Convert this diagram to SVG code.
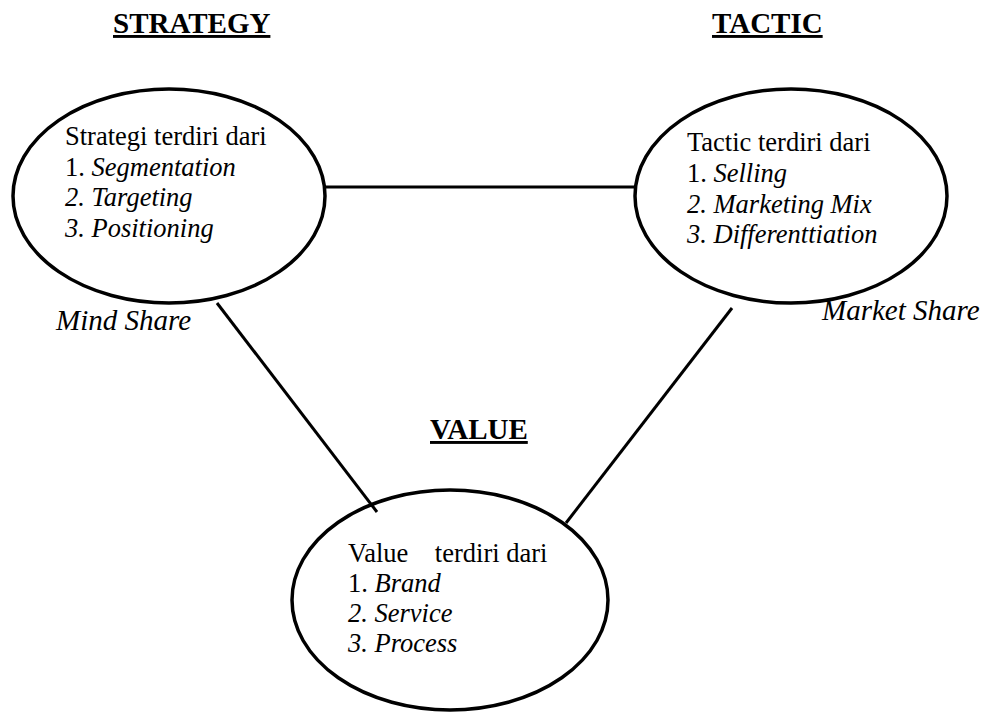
<svg xmlns="http://www.w3.org/2000/svg" width="986" height="713" viewBox="0 0 986 713">
<style>
text{font-family:"Liberation Serif","Times New Roman",serif;fill:#000}
.h{font-size:29px;font-weight:bold;text-decoration:underline}
.t{font-size:26.5px}
.i{font-style:italic}
.lbl{font-size:29px;font-style:italic}
.e{fill:none;stroke:#000;stroke-width:3.5}
.c{stroke:#000;stroke-width:3}
</style>
<rect width="986" height="713" fill="#fff"/>
<g id="connectors">
<line class="c" x1="326" y1="187" x2="635" y2="187"/>
<line class="c" x1="217" y1="303" x2="377" y2="512"/>
<line class="c" x1="732" y1="308" x2="566" y2="523"/>
</g>
<g id="strategy">
<text class="h" x="113" y="33">STRATEGY</text>
<ellipse class="e" cx="169" cy="196" rx="156" ry="107"/>
<text class="t" x="65" y="145">Strategi terdiri dari</text>
<text class="t" x="65" y="176">1. <tspan class="i">Segmentation</tspan></text>
<text class="t i" x="65" y="206">2. Targeting</text>
<text class="t i" x="65" y="237">3. Positioning</text>
<text class="lbl" x="56" y="330">Mind Share</text>
</g>
<g id="tactic">
<text class="h" x="712" y="33">TACTIC</text>
<ellipse class="e" cx="791" cy="196" rx="156" ry="107"/>
<text class="t" x="687" y="151">Tactic terdiri dari</text>
<text class="t" x="687" y="182">1. <tspan class="i">Selling</tspan></text>
<text class="t i" x="687" y="213">2. Marketing Mix</text>
<text class="t i" x="687" y="243">3. Differenttiation</text>
<text class="lbl" x="822" y="320">Market Share</text>
</g>
<g id="value">
<text class="h" x="430" y="439">VALUE</text>
<ellipse class="e" cx="450" cy="600" rx="158" ry="110"/>
<text class="t" x="348" y="562" xml:space="preserve">Value    terdiri dari</text>
<text class="t" x="348" y="592">1. <tspan class="i">Brand</tspan></text>
<text class="t i" x="348" y="622">2. Service</text>
<text class="t i" x="348" y="652">3. Process</text>
</g>
</svg>
